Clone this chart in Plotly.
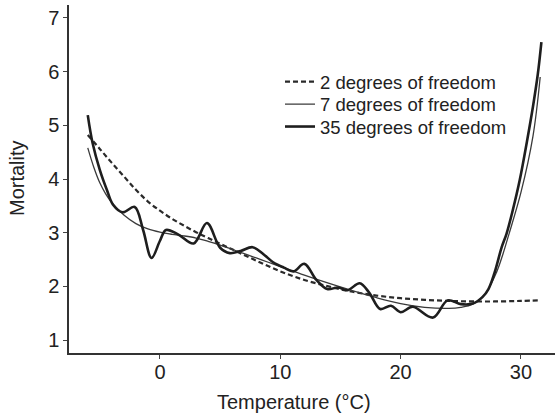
import plotly.graph_objects as go

# ---- data ----
temp_2df = [-6, -5, -4, -3, -2, -1, 0, 1, 2, 3, 4, 6, 8, 10, 12, 14, 16, 18, 20, 22, 24, 26, 28, 30, 31.6]
mort_2df = [4.82, 4.56, 4.30, 4.05, 3.80, 3.58, 3.41, 3.26, 3.13, 3.01, 2.90, 2.69, 2.48, 2.28, 2.12, 2.00, 1.90, 1.83, 1.78, 1.75, 1.73, 1.72, 1.72, 1.73, 1.74]

temp_7df = [-6, -5.5, -5, -4.5, -4, -3, -2, -1, 0, 1, 2, 3, 4, 5, 6, 7, 8, 9, 10, 12, 14, 16, 18, 20, 22, 24, 25, 26, 27, 28, 28.5, 29, 30, 31, 31.6]
mort_7df = [4.58, 4.22, 3.93, 3.72, 3.56, 3.33, 3.17, 3.07, 3.01, 2.97, 2.94, 2.90, 2.84, 2.77, 2.69, 2.61, 2.53, 2.45, 2.37, 2.21, 2.06, 1.92, 1.79, 1.68, 1.61, 1.59, 1.61, 1.67, 1.85, 2.28, 2.60, 2.97, 3.75, 4.80, 5.90]

temp_35df = [-6.0, -5.6, -5.0, -4.4, -3.9, -3.1, -2.1, -1.4, -0.7, 0.0, 0.5, 1.5, 2.8, 3.9, 5.0, 5.8, 6.7, 7.7, 8.6, 9.4, 10.3, 11.1, 12.0, 13.0, 13.9, 14.8, 15.6, 16.6, 17.4, 18.3, 19.2, 20.0, 21.0, 22.7, 23.9, 25.0, 26.0, 26.8, 27.3, 27.8, 28.4, 28.8, 29.3, 29.9, 30.5, 31.0, 31.4, 31.7]
mort_35df = [5.19, 4.67, 4.17, 3.79, 3.52, 3.38, 3.48, 3.05, 2.53, 2.85, 3.05, 2.97, 2.80, 3.18, 2.72, 2.62, 2.66, 2.73, 2.60, 2.45, 2.35, 2.28, 2.42, 2.12, 1.95, 1.98, 1.93, 2.06, 1.88, 1.58, 1.64, 1.52, 1.62, 1.42, 1.74, 1.67, 1.68, 1.80, 1.95, 2.25, 2.73, 2.98, 3.40, 3.98, 4.70, 5.35, 5.95, 6.55]

series_names = ["2 degrees of freedom", "7 degrees of freedom", "35 degrees of freedom"]
x_ticks = [0, 10, 20, 30]
y_ticks = [1, 2, 3, 4, 5, 6, 7]

FONT = "Liberation Sans, Arial, sans-serif"
INK = "#222222"

W, H = 555, 419
ml, mr, mt, mb = 69, 0, 5, 66
pw, ph = W - ml - mr, H - mt - mb

def px_x(p):
    return (p - ml) / pw

def px_y(p):
    return (H - mb - p) / ph

fig = go.Figure()
fig.add_trace(go.Scatter(x=temp_2df, y=mort_2df, mode="lines", name=series_names[0], legend="legend",
                         line=dict(color="#2a2a2a", width=2.2, dash="5px,3px", shape="spline", smoothing=1.0)))
fig.add_trace(go.Scatter(x=temp_7df, y=mort_7df, mode="lines", name=series_names[1], legend="legend2",
                         line=dict(color="#3a3a3a", width=1.3, shape="spline", smoothing=1.0)))
fig.add_trace(go.Scatter(x=temp_35df, y=mort_35df, mode="lines", name=series_names[2], legend="legend3",
                         line=dict(color="#1e1e1e", width=2.6, shape="spline", smoothing=1.0)))

def legend_at(center_px):
    return dict(x=px_x(280), y=px_y(center_px), xanchor="left", yanchor="middle",
                bgcolor="rgba(0,0,0,0)", borderwidth=0,
                font=dict(family=FONT, size=18.5, color=INK))

fig.update_layout(
    width=W, height=H,
    margin=dict(l=ml, r=mr, t=mt, b=mb, pad=0),
    paper_bgcolor="white", plot_bgcolor="white",
    font=dict(family=FONT, color=INK, size=20),
    showlegend=True,
    legend=legend_at(82),
    legend2=legend_at(104.5),
    legend3=legend_at(127),
    xaxis=dict(range=[-7.56, 32.83], tickvals=x_ticks, ticks="outside", ticklen=4, tickwidth=1.2,
               tickcolor="#444", showline=True, linecolor="#333", linewidth=1.5,
               showgrid=False, zeroline=False, ticklabelstandoff=-4,
               tickfont=dict(size=20, family=FONT, color=INK)),
    yaxis=dict(range=[0.76, 7.24], tickvals=y_ticks, ticks="outside", ticklen=4, tickwidth=1.2,
               tickcolor="#444", showline=True, linecolor="#333", linewidth=1.5,
               showgrid=False, zeroline=False,
               tickfont=dict(size=20, family=FONT, color=INK)),
    annotations=[
        dict(text="Temperature (°C)", xref="paper", yref="paper", x=px_x(293.5), y=px_y(402),
             xanchor="center", yanchor="middle", showarrow=False,
             font=dict(size=20, family=FONT, color=INK)),
        dict(text="Mortality", xref="paper", yref="paper", x=px_x(17), y=px_y(178),
             xanchor="center", yanchor="middle", showarrow=False, textangle=-90,
             font=dict(size=20, family=FONT, color=INK)),
    ],
)

fig.write_html("out.html", config={"displayModeBar": False},
               post_script="document.body.style.margin='0';document.body.style.overflow='hidden';")
